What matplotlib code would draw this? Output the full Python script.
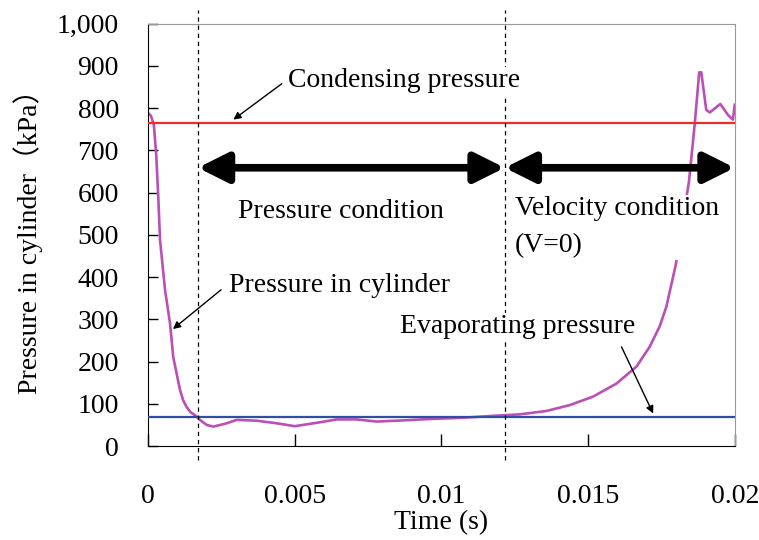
import matplotlib.pyplot as plt
from matplotlib.ticker import FuncFormatter

# pressure in cylinder (time in s, pressure in kPa)
time_s = [0.0, 0.0001, 0.0002, 0.00028, 0.00035, 0.00041, 0.00058, 0.00075,
          0.00086, 0.00109, 0.0012, 0.00132, 0.00145, 0.0016, 0.00177,
          0.00200, 0.00223, 0.00269, 0.00302, 0.0037, 0.00438, 0.005,
          0.00575, 0.00643, 0.00711, 0.00779, 0.00847, 0.00960, 0.01073,
          0.01188, 0.01267, 0.01358, 0.01438, 0.01517, 0.01597, 0.01665,
          0.0171, 0.01744, 0.01767, 0.01799, 0.01820, 0.01844, 0.01864,
          0.01879, 0.01886, 0.01903, 0.01915, 0.01951, 0.01977, 0.01994,
          0.02]
pressure_kpa = [789, 782, 760, 690, 590, 488, 370, 291, 211, 133, 108, 92,
                80, 73, 62, 50, 46, 54, 62, 60, 54, 47, 55, 63, 63, 58, 60,
                64, 67, 72, 75, 83, 97, 117, 148, 188, 235, 283, 330, 429,
                520, 626, 765, 885, 885, 796, 790, 810, 784, 773, 808]

condensing_kpa = 765
evaporating_kpa = 68
boundaries_s = [0.0017, 0.01216]

y_ticks = [0, 100, 200, 300, 400, 500, 600, 700, 800, 900, 1000]
x_ticks = [0, 0.005, 0.01, 0.015, 0.02]
x_tick_labels = ['0', '0.005', '0.01', '0.015', '0.02']

serif = ['Liberation Serif', 'Noto Sans CJK JP']
plt.rcParams['font.family'] = serif
plt.rcParams['font.size'] = 20

fig = plt.figure(figsize=(7.59, 5.40), dpi=100)
ax = fig.add_axes([0.195, 0.174, 0.773, 0.782])

ax.axhline(condensing_kpa, color='#ee2c2c', lw=1.6, zorder=3)
ax.plot(time_s, pressure_kpa, color='#bb4fb6', lw=1.9, zorder=2)
ax.axhline(evaporating_kpa, color='#2f4fa6', lw=1.6, zorder=3)

for b in boundaries_s:
    ax.plot([b, b], [-33, 1033], color='black', lw=0.9, ls=(0, (3.5, 3)),
            clip_on=False, zorder=4)

ax.set_xlim(0, 0.02)
ax.set_ylim(0, 1000)
ax.set_xticks(x_ticks)
ax.set_xticklabels(x_tick_labels)
ax.set_yticks(y_ticks)
ax.yaxis.set_major_formatter(FuncFormatter(lambda v, p: f'{int(v):,}'))
ax.tick_params(axis='x', direction='in', length=9, width=1, pad=27)
ax.tick_params(axis='y', direction='in', length=7, width=1, pad=21)
ax.spines['top'].set_color('#999999')
ax.spines['right'].set_color('#999999')

ax.set_xlabel('Time (s)', labelpad=1)
ax.set_ylabel('Pressure in cylinder（kPa）', labelpad=10)

# phase arrows
arrow_style = dict(arrowstyle='<|-|>,head_length=0.9,head_width=0.45',
                   lw=5.5, color='black', shrinkA=0, shrinkB=0,
                   mutation_scale=20)
ax.annotate('', xy=(boundaries_s[0], 659), xytext=(boundaries_s[1], 659),
            arrowprops=arrow_style, zorder=5)
ax.annotate('', xy=(boundaries_s[1], 659), xytext=(0.02, 659),
            arrowprops=arrow_style, zorder=5)

white = dict(facecolor='white', edgecolor='none', pad=1)
ax.text(0.00658, 555, 'Pressure condition', ha='center', va='center',
        bbox=white, zorder=6)
ax.text(0.0125, 592, 'Velocity condition\n(V=0)', ha='left', va='top',
        linespacing=1.65, bbox=white, zorder=6)

pointer = dict(arrowstyle='-|>', lw=1, color='black', shrinkA=0, shrinkB=0,
               mutation_scale=11)
ax.text(0.00477, 865, 'Condensing pressure', ha='left', va='center',
        bbox=white, zorder=6)
ax.annotate('', xy=(0.00291, 773), xytext=(0.00456, 858),
            arrowprops=pointer, zorder=6)
ax.text(0.00276, 381, 'Pressure in cylinder', ha='left', va='center',
        bbox=white, zorder=6)
ax.annotate('', xy=(0.00085, 277), xytext=(0.00249, 370),
            arrowprops=pointer, zorder=6)
ax.text(0.00859, 282, 'Evaporating pressure', ha='left', va='center',
        bbox=white, zorder=6)
ax.annotate('', xy=(0.01722, 77), xytext=(0.01614, 235),
            arrowprops=pointer, zorder=6)

fig.savefig('out.png', dpi=100)
